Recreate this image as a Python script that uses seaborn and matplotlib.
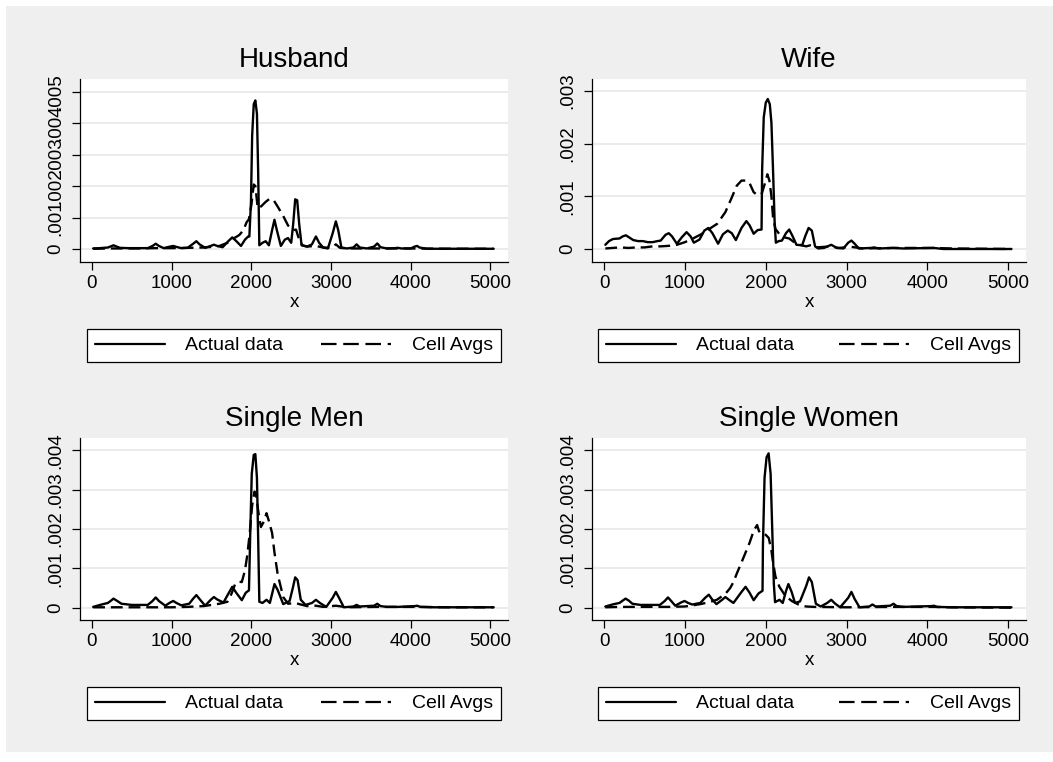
import numpy as np
import pandas as pd
import matplotlib
matplotlib.use("Agg")
import matplotlib.pyplot as plt
import seaborn as sns
from matplotlib.lines import Line2D
from matplotlib.patches import Rectangle

# densities typed in thousandths, x in income units

# Husband
husband_actual_x = [15, 100, 200, 240, 270, 300, 350, 450, 600, 700, 760, 800, 840, 900, 980, 1020, 1060,
                    1120, 1200, 1270, 1310, 1350, 1420, 1490, 1530, 1570, 1640, 1710, 1760, 1800, 1870,
                    1920, 1960, 1975, 1995, 2010, 2030, 2050, 2070, 2085, 2100, 2140, 2180, 2220, 2260,
                    2290, 2320, 2370, 2420, 2460, 2500, 2525, 2550, 2575, 2600, 2630, 2700, 2760, 2810,
                    2850, 2900, 2960, 3020, 3060, 3090, 3130, 3200, 3280, 3320, 3360, 3450, 3540, 3580,
                    3620, 3700, 3800, 3840, 3880, 4000, 4050, 4080, 4110, 4200, 4500, 5040]
husband_actual_y = [0.02, 0.03, 0.05, 0.09, 0.12, 0.09, 0.04, 0.03, 0.03, 0.03, 0.10, 0.17, 0.10, 0.03, 0.08,
                    0.10, 0.07, 0.03, 0.04, 0.17, 0.25, 0.15, 0.04, 0.10, 0.14, 0.10, 0.06, 0.25, 0.37,
                    0.28, 0.10, 0.30, 0.40, 0.40, 1.50, 3.60, 4.60, 4.72, 4.30, 2.50, 0.12, 0.20, 0.25,
                    0.12, 0.60, 0.93, 0.60, 0.10, 0.30, 0.35, 0.20, 0.80, 1.58, 1.55, 0.80, 0.12, 0.08,
                    0.15, 0.40, 0.20, 0.05, 0.02, 0.50, 0.88, 0.60, 0.05, 0.02, 0.05, 0.15, 0.05, 0.02,
                    0.08, 0.18, 0.06, 0.02, 0.03, 0.04, 0.02, 0.02, 0.08, 0.10, 0.05, 0.01, 0.01, 0.01]
husband_cell_x = [15, 200, 400, 600, 800, 1000, 1200, 1400, 1500, 1600, 1700, 1760, 1800, 1850, 1900, 1940,
                  1970, 2000, 2030, 2050, 2080, 2120, 2180, 2230, 2280, 2330, 2400, 2460, 2520, 2560, 2600,
                  2640, 2700, 2810, 2900, 3000, 3060, 3110, 3200, 3500, 4000, 4500, 5040]
husband_cell_y = [0.01, 0.02, 0.02, 0.02, 0.03, 0.03, 0.04, 0.05, 0.07, 0.10, 0.20, 0.33, 0.37, 0.45, 0.60,
                  0.85, 0.95, 1.40, 2.05, 2.00, 1.30, 1.35, 1.50, 1.60, 1.55, 1.35, 1.05, 0.75, 0.60, 0.62,
                  0.30, 0.12, 0.08, 0.10, 0.05, 0.04, 0.15, 0.04, 0.02, 0.02, 0.02, 0.01, 0.01]

# Wife
wife_actual_x = [15, 60, 110, 190, 230, 270, 310, 360, 420, 480, 540, 600, 660, 700, 760, 800, 840, 900,
                 960, 1020, 1070, 1110, 1180, 1240, 1290, 1340, 1410, 1470, 1530, 1580, 1630, 1700, 1760,
                 1800, 1850, 1900, 1948, 1955, 1975, 2000, 2025, 2050, 2070, 2090, 2110, 2125, 2160, 2200,
                 2250, 2290, 2330, 2380, 2450, 2490, 2530, 2570, 2610, 2650, 2720, 2810, 2880, 2960, 3020,
                 3060, 3100, 3150, 3300, 3340, 3400, 3580, 3700, 4080, 4200, 5040]
wife_actual_y = [0.08, 0.15, 0.19, 0.20, 0.24, 0.26, 0.22, 0.17, 0.15, 0.15, 0.13, 0.13, 0.15, 0.16, 0.27,
                 0.30, 0.24, 0.10, 0.22, 0.32, 0.24, 0.12, 0.18, 0.35, 0.40, 0.30, 0.10, 0.28, 0.35, 0.30,
                 0.17, 0.40, 0.53, 0.45, 0.29, 0.36, 0.37, 1.50, 2.50, 2.78, 2.85, 2.75, 2.40, 1.50, 0.50,
                 0.12, 0.15, 0.16, 0.30, 0.37, 0.25, 0.08, 0.07, 0.25, 0.40, 0.35, 0.05, 0.01, 0.02, 0.08,
                 0.02, 0.01, 0.12, 0.16, 0.10, 0.01, 0.02, 0.03, 0.01, 0.02, 0.01, 0.02, 0.00, 0.00]
wife_cell_x = [15, 100, 200, 300, 400, 500, 600, 700, 800, 900, 1000, 1100, 1200, 1300, 1400, 1500, 1580,
               1640, 1700, 1760, 1800, 1850, 1900, 1950, 1990, 2020, 2045, 2070, 2090, 2120, 2170, 2230,
               2290, 2350, 2420, 2500, 2550, 2620, 2810, 2900, 3060, 3200, 3580, 4080, 4300, 5040]
wife_cell_y = [0.01, 0.02, 0.03, 0.02, 0.03, 0.03, 0.05, 0.05, 0.06, 0.08, 0.13, 0.20, 0.28, 0.38, 0.48,
               0.70, 0.98, 1.20, 1.30, 1.30, 1.25, 1.08, 1.02, 1.05, 1.25, 1.42, 1.30, 1.00, 0.60, 0.38,
               0.28, 0.22, 0.20, 0.13, 0.08, 0.05, 0.07, 0.03, 0.05, 0.02, 0.04, 0.01, 0.02, 0.02, 0.01, 0.00]

# Single men
men_actual_x = [15, 120, 200, 240, 270, 310, 370, 500, 700, 760, 800, 840, 920, 980, 1020, 1060, 1120, 1220,
                1270, 1310, 1350, 1420, 1490, 1530, 1570, 1650, 1710, 1760, 1810, 1880, 1930, 1970, 1985,
                2005, 2030, 2050, 2070, 2085, 2100, 2140, 2190, 2232, 2260, 2290, 2330, 2400, 2480, 2520,
                2550, 2580, 2620, 2680, 2760, 2810, 2860, 2940, 3020, 3060, 3100, 3160, 3280, 3320, 3360,
                3540, 3580, 3620, 3700, 3840, 4050, 4080, 4120, 4300, 5040]
men_actual_y = [0.02, 0.08, 0.12, 0.18, 0.23, 0.18, 0.10, 0.07, 0.07, 0.17, 0.26, 0.17, 0.05, 0.13, 0.17,
                0.12, 0.06, 0.10, 0.23, 0.32, 0.22, 0.05, 0.20, 0.27, 0.21, 0.13, 0.35, 0.53, 0.38, 0.19,
                0.38, 0.44, 1.80, 3.40, 3.88, 3.90, 3.30, 1.80, 0.15, 0.12, 0.20, 0.12, 0.35, 0.60, 0.45,
                0.09, 0.17, 0.50, 0.77, 0.70, 0.20, 0.07, 0.12, 0.20, 0.12, 0.02, 0.25, 0.40, 0.25, 0.01,
                0.03, 0.07, 0.03, 0.05, 0.10, 0.04, 0.02, 0.02, 0.04, 0.05, 0.02, 0.01, 0.01]
men_cell_x = [15, 200, 400, 600, 800, 1000, 1200, 1400, 1500, 1600, 1700, 1750, 1800, 1850, 1880, 1920, 1950,
              1980, 2010, 2040, 2060, 2090, 2120, 2160, 2190, 2220, 2260, 2290, 2330, 2400, 2460, 2550, 2620,
              2700, 2810, 2900, 3060, 3200, 3580, 4080, 4500, 5040]
men_cell_y = [0.01, 0.01, 0.01, 0.01, 0.01, 0.01, 0.02, 0.04, 0.07, 0.10, 0.15, 0.35, 0.62, 0.66, 0.65, 0.95,
              1.35, 1.90, 2.60, 2.95, 2.85, 2.40, 2.05, 2.20, 2.40, 2.20, 1.90, 1.40, 0.85, 0.27, 0.10, 0.12,
              0.08, 0.04, 0.05, 0.02, 0.05, 0.01, 0.02, 0.02, 0.01, 0.01]

# Single women
women_actual_x = [15, 120, 190, 230, 265, 305, 350, 450, 690, 750, 790, 830, 880, 950, 995, 1040, 1090, 1190,
                  1250, 1295, 1340, 1390, 1460, 1500, 1545, 1600, 1700, 1750, 1800, 1850, 1910, 1960, 1965,
                  1985, 2010, 2035, 2060, 2080, 2100, 2115, 2170, 2210, 2250, 2280, 2320, 2362, 2424, 2500,
                  2535, 2570, 2620, 2680, 2760, 2810, 2860, 2920, 3020, 3060, 3100, 3160, 3280, 3320, 3360,
                  3540, 3580, 3620, 3700, 4050, 4080, 4120, 4300, 5040]
women_actual_y = [0.03, 0.09, 0.12, 0.18, 0.23, 0.18, 0.10, 0.07, 0.07, 0.17, 0.26, 0.17, 0.05, 0.13, 0.17,
                  0.12, 0.08, 0.12, 0.25, 0.33, 0.20, 0.09, 0.20, 0.27, 0.20, 0.12, 0.40, 0.53, 0.38, 0.19,
                  0.36, 0.43, 1.60, 3.30, 3.82, 3.92, 3.40, 2.00, 0.60, 0.14, 0.20, 0.12, 0.42, 0.60, 0.40,
                  0.12, 0.16, 0.55, 0.77, 0.65, 0.10, 0.03, 0.12, 0.20, 0.10, 0.01, 0.25, 0.40, 0.22, 0.01,
                  0.03, 0.08, 0.03, 0.05, 0.10, 0.04, 0.02, 0.04, 0.05, 0.02, 0.01, 0.01]
women_cell_x = [15, 200, 400, 600, 800, 1000, 1100, 1190, 1300, 1395, 1500, 1560, 1600, 1642, 1700, 1750, 1800,
                1850, 1893, 1915, 1930, 1963, 2000, 2037, 2070, 2090, 2120, 2169, 2239, 2321, 2424, 2500, 2600,
                3000, 3580, 4080, 4300, 5040]
women_cell_y = [0.01, 0.02, 0.02, 0.02, 0.02, 0.03, 0.06, 0.09, 0.14, 0.20, 0.35, 0.50, 0.65, 0.87, 1.15,
                1.40, 1.65, 1.95, 2.10, 1.95, 1.90, 1.90, 1.85, 1.77, 1.45, 1.15, 0.79, 0.53, 0.31, 0.17,
                0.06, 0.03, 0.02, 0.01, 0.02, 0.02, 0.01, 0.00]

titles = ["Husband", "Wife", "Single Men", "Single Women"]
series_names = ["Actual data", "Cell Avgs"]

W, H = 1053, 762


def frac(l, t, r, b):
    return [l / W, 1 - b / H, (r - l) / W, (b - t) / H]


sns.set_style("ticks")
plt.rcParams['font.family'] = ['Liberation Sans', 'DejaVu Sans']
plt.rcParams['text.color'] = 'black'
plt.rcParams['axes.labelcolor'] = 'black'

fig = plt.figure(figsize=(W / 100, H / 100), dpi=100, facecolor='white')
fig.patches.append(Rectangle((6 / W, 10 / H), 1047 / W, 746 / H, transform=fig.transFigure,
                             facecolor='#EFEFEF', edgecolor='none', zorder=-5))

panels = [
    (husband_actual_x, husband_actual_y, husband_cell_x, husband_cell_y, 5, (-0.00041, 0.0054),
     (80, 79, 508, 262), (87, 327, 501, 364)),
    (wife_actual_x, wife_actual_y, wife_cell_x, wife_cell_y, 3, (-0.000247, 0.00323),
     (592, 79, 1026, 262), (598, 327, 1019, 364)),
    (men_actual_x, men_actual_y, men_cell_x, men_cell_y, 4, (-0.000313, 0.00431),
     (80, 438, 508, 620), (87, 685, 501, 722)),
    (women_actual_x, women_actual_y, women_cell_x, women_cell_y, 4, (-0.000313, 0.00431),
     (592, 438, 1026, 620), (598, 685, 1019, 722)),
]

legend_handles = [Line2D([], [], color='black', lw=1.6),
                  Line2D([], [], color='black', lw=1.6, linestyle=(0, (7.0, 3.0)))]

for title, (ax_x, ax_y, cx, cy, ntick, ylim, rect, leg_rect) in zip(titles, panels):
    ax = fig.add_axes(frac(*rect))
    df = pd.concat([
        pd.DataFrame({'x': ax_x, 'density': np.array(ax_y) / 1000, 'series': series_names[0]}),
        pd.DataFrame({'x': cx, 'density': np.array(cy) / 1000, 'series': series_names[1]}),
    ], ignore_index=True)
    sns.lineplot(data=df, x='x', y='density', style='series',
                 dashes={series_names[0]: '', series_names[1]: (5, 2.5)},
                 color='black', linewidth=1.7, estimator=None, legend=False, ax=ax)

    ax.set_facecolor('white')
    ax.set_xlim(-150, 5220)
    ax.set_ylim(*ylim)
    ax.set_xticks(range(0, 5001, 1000))
    yt = [i / 1000 for i in range(ntick + 1)]
    ax.set_yticks(yt)
    ax.set_yticklabels(['0'] + ['.%03d' % i for i in range(1, ntick + 1)], rotation=90, va='center')
    ax.tick_params(axis='both', direction='out', length=5.5, width=0.9, color='black',
                   labelsize=13.5, labelcolor='black')
    ax.tick_params(axis='x', pad=4)
    ax.tick_params(axis='y', pad=6)
    ax.yaxis.grid(True, color='#E6E6E6', lw=1.1)
    ax.xaxis.grid(False)
    ax.set_axisbelow(True)
    for side in ['top', 'right']:
        ax.spines[side].set_visible(False)
    for side in ['left', 'bottom']:
        ax.spines[side].set_color('black')
        ax.spines[side].set_linewidth(0.9)
    ax.set_xlabel('x', fontsize=13.5, labelpad=1)
    ax.set_ylabel('')

    ax_h = rect[3] - rect[1]
    ax.text(0.5, 1 + 19 / ax_h, title, transform=ax.transAxes, ha='center', va='center', fontsize=20)

    leg = fig.legend(legend_handles, series_names, loc='center', bbox_to_anchor=frac(*leg_rect),
                     bbox_transform=fig.transFigure, mode='expand', ncol=2, fontsize=14,
                     handlelength=3.6, handletextpad=1.06, borderpad=0.4, borderaxespad=0,
                     frameon=True, fancybox=False, edgecolor='black', framealpha=1, facecolor='white')
    leg.get_frame().set_linewidth(0.9)

fig.savefig('out.png', dpi=100, facecolor='white')
